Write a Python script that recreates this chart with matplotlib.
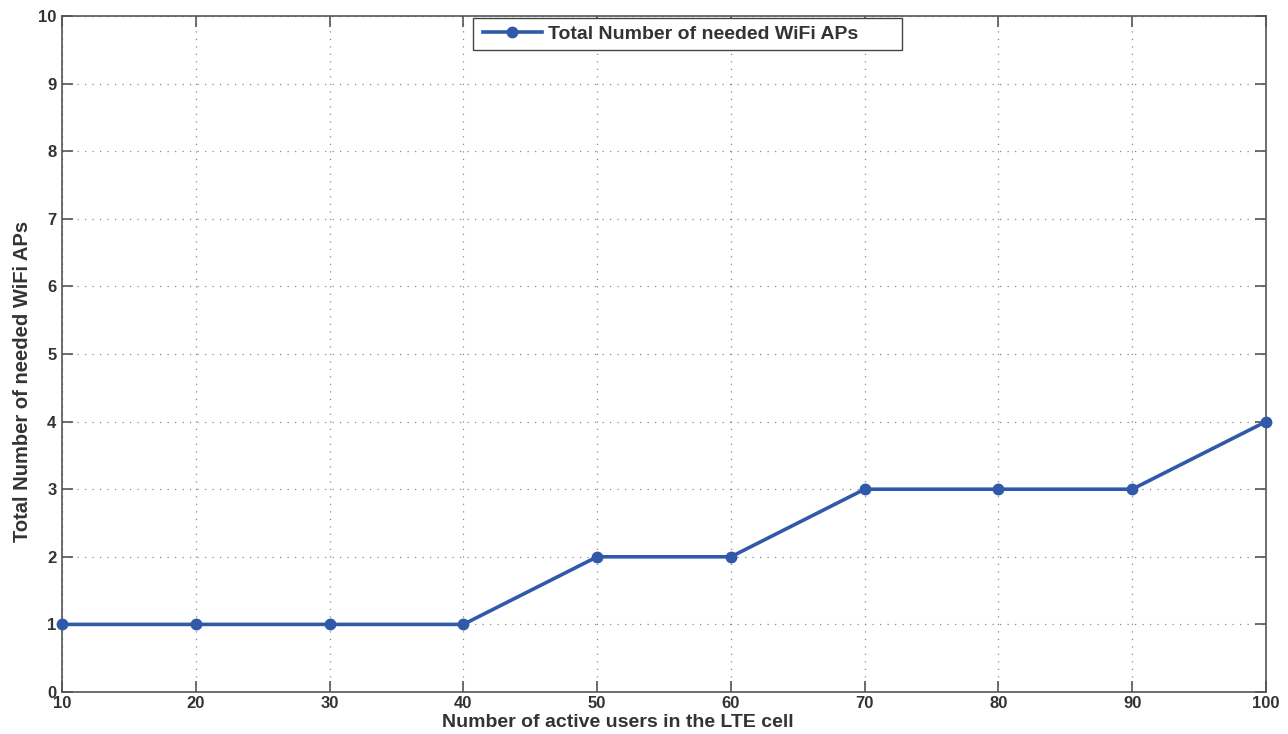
import matplotlib
matplotlib.use("Agg")
import matplotlib.pyplot as plt
from matplotlib.patches import Rectangle

users = [10, 20, 30, 40, 50, 60, 70, 80, 90, 100]
num_aps = [1, 1, 1, 1, 2, 2, 3, 3, 3, 4]

plt.rcParams['font.family'] = ['Liberation Sans', 'DejaVu Sans']
plt.rcParams['font.weight'] = 'bold'

W, H = 1288, 734
L, R, T, B = 62, 1266, 16, 692

fig = plt.figure(figsize=(W / 100, H / 100), dpi=100)
ax = fig.add_axes([L / W, 1 - B / H, (R - L) / W, (B - T) / H])


def ax_x(px):
    return (px - L) / (R - L)


def ax_y(py):
    return (B - py) / (B - T)


ax.plot(users, num_aps, color="#3059A9", linewidth=2.6, marker="o", markersize=7.5,
        label="Total Number of needed WiFi APs", clip_on=False, zorder=3)

ax.set_xlim(10, 100)
ax.set_ylim(0, 10)
ax.set_xticks(users)
ax.set_yticks(range(0, 11))
ax.tick_params(direction="in", top=True, right=True, length=8, width=1.2,
               color="#555555", labelsize=12, labelcolor="#333333", pad=4)
ax.tick_params(axis="x", pad=3)
for lbl in ax.get_xticklabels() + ax.get_yticklabels():
    lbl.set_fontweight("bold")
for s in ax.spines.values():
    s.set_color("#555555")
    s.set_linewidth(1.2)

ax.grid(True, linestyle=(0, (1, 5)), color="#888888", linewidth=0.9)

ax.set_xlabel("Number of active users in the LTE cell", fontsize=14, fontweight="bold",
              color="#333333")
ax.xaxis.set_label_coords(ax_x(618), ax_y(714))
ax.set_ylabel("Total Number of needed WiFi APs", fontsize=14.5, fontweight="bold",
              color="#333333")
ax.yaxis.set_label_coords(ax_x(32), ax_y(381))

# legend box drawn by hand (MATLAB style, extra room on the right)
frame = Rectangle((ax_x(473), ax_y(50)), ax_x(902) - ax_x(473), ax_y(18) - ax_y(50),
                  transform=ax.transAxes, facecolor="white", edgecolor="#444444",
                  linewidth=1.0, clip_on=False, zorder=4.5)
ax.add_patch(frame)
leg = ax.legend(loc="center left", bbox_to_anchor=(ax_x(483), ax_y(34)), borderaxespad=0,
                borderpad=0, fontsize=14, frameon=False, handlelength=3.03,
                handletextpad=0.31)
leg.set_zorder(5)
for t in leg.get_texts():
    t.set_color("#333333")

fig.savefig("out.png", dpi=100)
